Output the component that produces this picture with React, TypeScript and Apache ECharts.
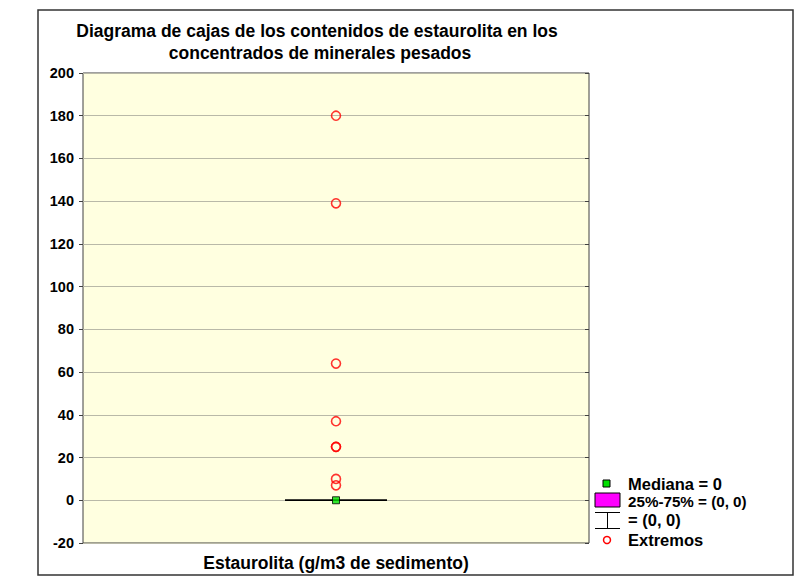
import React, { useEffect, useRef } from "react";
import * as echarts from "echarts";

const categories = ["Estaurolita"];
const boxStats = [[0, 0, 0, 0, 0]]; // min, Q1, median, Q3, max
const medianValues = [0];
const extremeValues = [180, 139, 64, 37, 25, 25, 10, 7];
const yTicks = { min: -20, max: 200, interval: 20 };
const titleLines = [
  "Diagrama de cajas de los contenidos de estaurolita en los",
  "concentrados de minerales pesados",
];
const xLabel = "Estaurolita (g/m3 de sedimento)";
const legendTexts = ["Mediana = 0", "25%-75% = (0, 0)", "= (0, 0)", "Extremos"];

const FONT = "'Liberation Sans', Arial, sans-serif";

export default function App() {
  const ref = useRef<HTMLDivElement>(null);
  useEffect(() => {
    if (!ref.current) return;
    const chart = echarts.init(ref.current, undefined, { renderer: "svg" });
    const txt = (x: number, y: number, text: string, size = 14, align = "left") => ({
      type: "text",
      x,
      y,
      style: {
        text,
        font: `bold ${size}px ${FONT}`,
        fill: "#000",
        textAlign: align,
        textVerticalAlign: "middle",
      },
      z: 10,
    });
    chart.setOption({
      animation: false,
      backgroundColor: "#ffffff",
      grid: {
        left: 83,
        top: 73,
        width: 506,
        height: 470,
        show: true,
        backgroundColor: "#ffffe0",
        borderColor: "#404040",
        borderWidth: 1,
      },
      xAxis: {
        type: "category",
        data: categories,
        axisLabel: { show: false },
        axisTick: { show: false },
        axisLine: { show: false },
        splitLine: { show: false },
      },
      yAxis: [
        {
          type: "value",
          min: yTicks.min,
          max: yTicks.max,
          interval: yTicks.interval,
          axisLine: { show: false },
          axisTick: { show: true, length: 4, lineStyle: { color: "#404040" } },
          axisLabel: {
            margin: 9,
            fontFamily: FONT,
            fontWeight: "bold",
            fontSize: 14.5,
            color: "#000",
          },
          splitLine: { show: true, lineStyle: { color: "#b9b9a8", width: 1 } },
        },
        {
          type: "value",
          position: "right",
          min: yTicks.min,
          max: yTicks.max,
          interval: yTicks.interval,
          axisLine: { show: false },
          axisTick: { show: true, inside: true, length: 4, lineStyle: { color: "#404040" } },
          axisLabel: { show: false },
          splitLine: { show: false },
        },
      ],
      series: [
        {
          type: "boxplot",
          data: boxStats,
          boxWidth: [102, 102],
          itemStyle: { color: "#ff00ff", borderColor: "#000", borderWidth: 1 },
          z: 2,
        },
        {
          type: "scatter",
          data: medianValues.map((v) => [0, v]),
          symbol: "rect",
          symbolSize: 7,
          itemStyle: { color: "#00e000", borderColor: "#000", borderWidth: 1 },
          z: 4,
        },
        {
          type: "scatter",
          data: extremeValues.map((v) => [0, v]),
          symbol: "circle",
          symbolSize: 9,
          itemStyle: { color: "rgba(0,0,0,0)", borderColor: "#ff0000", borderWidth: 1.6 },
          z: 3,
        },
      ],
      graphic: [
        {
          type: "rect",
          shape: { x: 38, y: 10, width: 755, height: 565 },
          style: { fill: "none", stroke: "#333", lineWidth: 1.5 },
          z: 0,
        },
        txt(317, 31, titleLines[0], 17.5, "center"),
        txt(320, 53, titleLines[1], 17.5, "center"),
        txt(336, 563, xLabel, 17.5, "center"),
        // legend: median
        {
          type: "rect",
          shape: { x: 603, y: 480, width: 7, height: 7 },
          style: { fill: "#00e000", stroke: "#000", lineWidth: 1 },
          z: 10,
        },
        txt(628, 484, legendTexts[0], 16.5),
        // legend: box
        {
          type: "rect",
          shape: { x: 595, y: 493, width: 25, height: 14 },
          style: { fill: "#ff00ff", stroke: "#000", lineWidth: 1 },
          z: 10,
        },
        txt(628, 501, legendTexts[1], 15.2),
        // legend: whisker
        {
          type: "line",
          shape: { x1: 595, y1: 512.5, x2: 620, y2: 512.5 },
          style: { stroke: "#000", lineWidth: 1 },
          z: 10,
        },
        {
          type: "line",
          shape: { x1: 607.5, y1: 512.5, x2: 607.5, y2: 528.5 },
          style: { stroke: "#000", lineWidth: 1 },
          z: 10,
        },
        {
          type: "line",
          shape: { x1: 595, y1: 528.5, x2: 620, y2: 528.5 },
          style: { stroke: "#000", lineWidth: 1 },
          z: 10,
        },
        txt(628, 520, legendTexts[2], 16.5),
        // legend: extremes
        {
          type: "circle",
          shape: { cx: 607, cy: 540, r: 3.5 },
          style: { fill: "none", stroke: "#ff0000", lineWidth: 1.5 },
          z: 10,
        },
        txt(628, 540, legendTexts[3], 16.5),
      ],
    });
    return () => chart.dispose();
  }, []);
  return (
    <div
      ref={ref}
      style={{ position: "fixed", left: 0, top: 0, width: 799, height: 577 }}
    />
  );
}
